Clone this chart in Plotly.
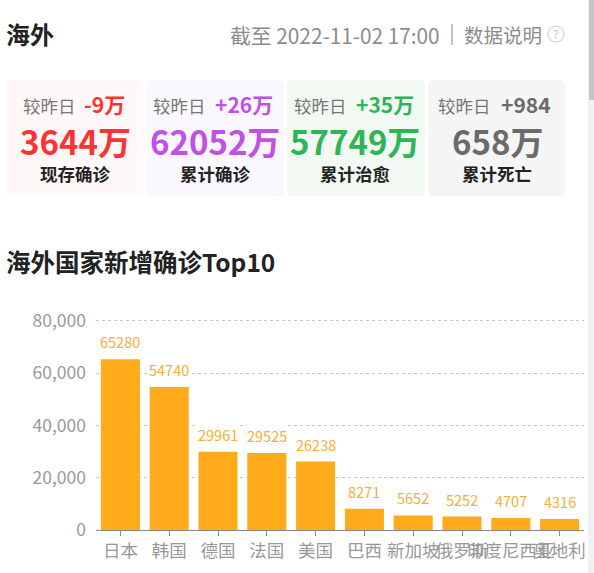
import plotly.graph_objects as go

W, H = 594, 573
FONT = "Noto Sans CJK SC"

# ---- data ----
countries = ["日本", "韩国", "德国", "法国", "美国", "巴西", "新加坡", "俄罗斯", "印度尼西亚", "奥地利"]
new_cases = [65280, 54740, 29961, 29525, 26238, 8271, 5652, 5252, 4707, 4316]
y_ticks = [0, 20000, 40000, 60000, 80000]
card_names = ["现存确诊", "累计确诊", "累计治愈", "累计死亡"]
card_totals = ["3644万", "62052万", "57749万", "658万"]
card_deltas = ["-9万", "+26万", "+35万", "+984"]
page_title = "海外"
chart_title = "海外国家新增确诊Top10"
updated = "截至 2022-11-02 17:00"
note = "数据说明"
compare = "较昨日"

# ---- styling / layout ----
card_colors = ["#f93434", "#c050e6", "#2db656", "#6b6b6b"]
card_bgs = ["#fff8f8", "#fbf7fe", "#f2f9f3", "#f5f5f5"]
card_x = [(6, 143), (147, 284), (287, 425), (428, 565)]
cmp_x = [23, 153, 294, 438]
delta_x = [84, 215, 356, 501]
card_cx = [75, 215, 355, 497]
# the axis runs slightly past 80,000 so that the top gridline is drawn
PL, PR, PT, PB = 96, 584, 319.39, 530.3
Y_MAX = 80500


def px(x):
    return x / W


def py(y):
    return 1 - y / H


def note_text(x, y, text, size, color, anchor="left", bold=False):
    return dict(
        x=px(x), y=py(y), xref="paper", yref="paper", text=f"<b>{text}</b>" if bold else text,
        showarrow=False, xanchor=anchor, yanchor="middle", borderpad=0, borderwidth=0,
        font=dict(family=FONT, size=size, color=color),
    )


def round_rect(x0, y0, x1, y1, r, fill):
    X0, X1 = px(x0), px(x1)
    Y0, Y1 = py(y0), py(y1)
    rx, ry = r / W, r / H
    path = (
        f"M{X0 + rx},{Y0} L{X1 - rx},{Y0} Q{X1},{Y0} {X1},{Y0 - ry} "
        f"L{X1},{Y1 + ry} Q{X1},{Y1} {X1 - rx},{Y1} L{X0 + rx},{Y1} "
        f"Q{X0},{Y1} {X0},{Y1 + ry} L{X0},{Y0 - ry} Q{X0},{Y0} {X0 + rx},{Y0} Z"
    )
    return dict(type="path", xref="paper", yref="paper", path=path, fillcolor=fill,
                line=dict(width=0), layer="below")


annotations = [
    note_text(6, 34, page_title, 24, "#222222", bold=True),
    note_text(230, 35, updated, 20.8, "#8c8c8c"),
    note_text(464, 35, note, 19.5, "#8c8c8c"),
    note_text(556, 34, "?", 12, "#c8c8c8", anchor="center"),
    note_text(6, 261, chart_title, 24.5, "#222222", bold=True),
]
for i in range(4):
    annotations += [
        note_text(cmp_x[i], 105, compare, 17.5, "#777777"),
        note_text(delta_x[i], 104, card_deltas[i], 21, card_colors[i], bold=True),
        note_text(card_cx[i], 141, card_totals[i], 33, card_colors[i], anchor="center", bold=True),
        note_text(card_cx[i], 173, card_names[i], 17.5, "#222222", anchor="center", bold=True),
    ]
# value labels sit on the data axes, with a white box that interrupts the gridlines
for name, value in zip(countries, new_cases):
    annotations.append(dict(
        x=name, y=value, xref="x", yref="y", text=str(value), showarrow=False,
        xanchor="center", yanchor="bottom", yshift=7, borderpad=0, borderwidth=0, bgcolor="white",
        font=dict(family=FONT, size=14.5, color="#f7ae37"),
    ))

shapes = [round_rect(card_x[i][0], 80, card_x[i][1], 196, 6, card_bgs[i]) for i in range(4)]
shapes += [
    dict(type="line", xref="paper", yref="paper", x0=px(452), x1=px(452), y0=py(24), y1=py(45),
         line=dict(color="#999999", width=1.2)),
    dict(type="circle", xref="paper", yref="paper", x0=px(548), x1=px(564), y0=py(42), y1=py(26),
         line=dict(color="#d2d2d2", width=1.2)),
    dict(type="rect", xref="paper", yref="paper", x0=px(588), x1=1, y0=0, y1=1,
         fillcolor="#f1f1f1", line=dict(width=0)),
    dict(type="rect", xref="paper", yref="paper", x0=px(589), x1=1, y0=py(100), y1=1,
         fillcolor="#c4c4c4", line=dict(width=0)),
]

fig = go.Figure(
    go.Bar(
        x=countries, y=new_cases, width=0.8,
        marker=dict(color="#ffab1b", line=dict(width=0)),
        hoverinfo="skip",
    )
)
fig.update_layout(
    width=W, height=H, margin=dict(l=0, r=0, t=0, b=0, pad=0),
    paper_bgcolor="white", plot_bgcolor="rgba(0,0,0,0)", showlegend=False,
    bargap=0.2, annotations=annotations, shapes=shapes,
    font=dict(family=FONT),
    xaxis=dict(
        domain=[px(PL), px(PR)], type="category", tickmode="array", automargin=False,
        tickvals=countries, ticktext=countries, tickangle=0,
        tickfont=dict(size=17.5, color="#999999"), ticks="outside", ticklen=5, tickcolor="#888888",
        showline=True, linecolor="#888888", linewidth=1, showgrid=False, fixedrange=True,
    ),
    yaxis=dict(
        domain=[py(PB), py(PT)], range=[0, Y_MAX], tickmode="array", tickvals=y_ticks, automargin=False,
        tickformat=",", tickfont=dict(size=17.5, color="#999999"), ticks="",
        showgrid=True, gridcolor="#c8c8c8", griddash="3px,3px", gridwidth=1,
        zeroline=False, showline=False, fixedrange=True, ticklabelstandoff=9,
    ),
)
fig.write_html("out.html", config={"displayModeBar": False},
               post_script="document.body.style.margin='0';document.documentElement.style.overflow='hidden';")
